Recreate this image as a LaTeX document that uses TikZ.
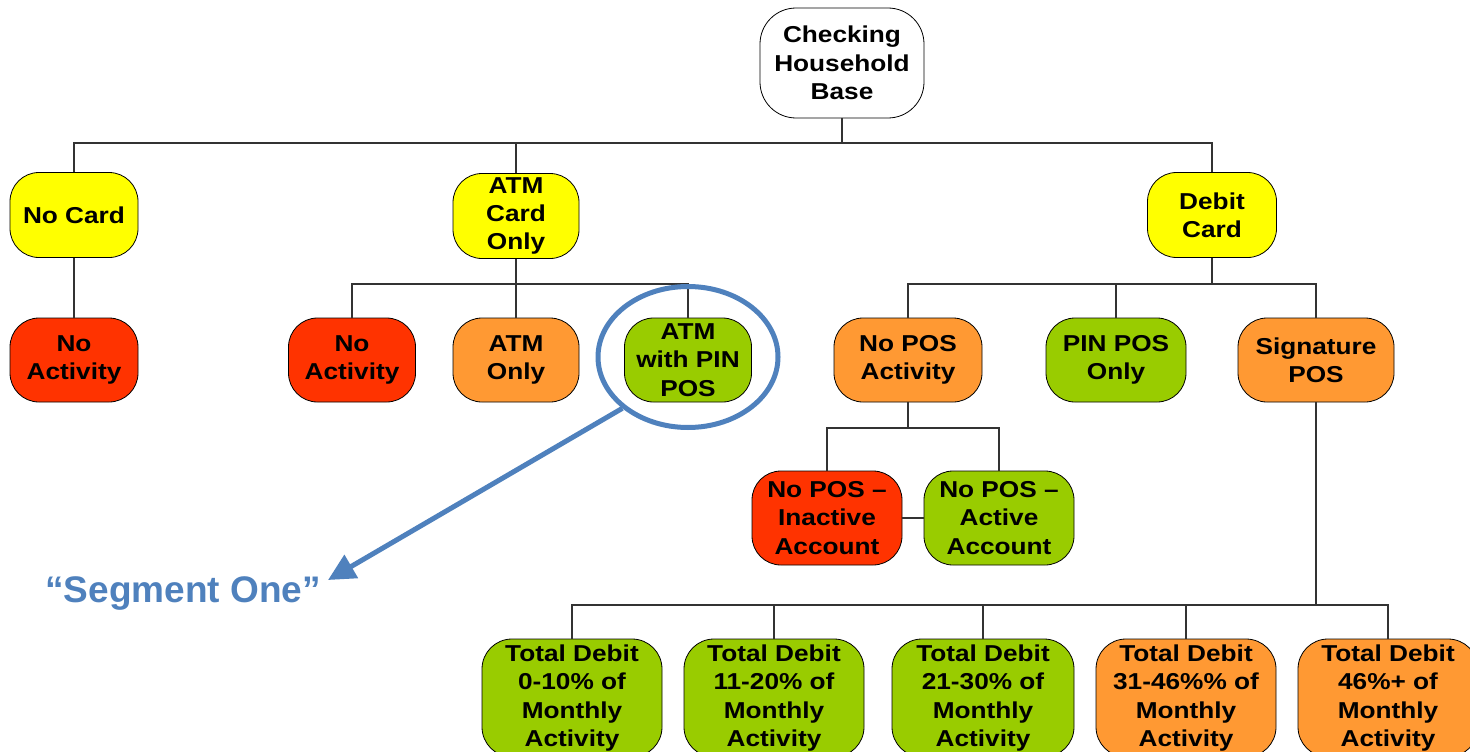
\documentclass[tikz,border=0pt]{standalone}
\usepackage{fontspec}
\setmainfont{Liberation Sans}
\newfontfamily\widefont[FakeStretch=1.14]{Liberation Sans}
\usetikzlibrary{arrows.meta,shapes.geometric}
\definecolor{cyel}{HTML}{FFFF00}
\definecolor{cred}{HTML}{FF3300}
\definecolor{corg}{HTML}{FF9933}
\definecolor{cgrn}{HTML}{99CC00}
\definecolor{cblu}{HTML}{4F81BD}
\begin{document}
\begin{tikzpicture}[x=1pt,y=-1pt,
  box/.style={draw=black,line width=0.8pt,rounded corners=29pt,inner sep=0pt,align=center,
    font=\fontsize{23}{28.3}\selectfont\widefont\bfseries},
  midrow/.style={box,minimum height=84pt},
  lowbox/.style={box,minimum width=150pt,minimum height=94pt},
  botbox/.style={box,rounded corners=30pt,minimum width=180pt,minimum height=118pt},
  conn/.style={line width=1.2pt,draw=black!80},
  segline/.style={draw=cblu,line width=5pt},
]
\useasboundingbox (0,0) rectangle (1470,752);
\clip (0,0) rectangle (1470,752);

% level 0
\node[box,fill=white,rounded corners=36pt,minimum width=164pt,minimum height=110pt] (root) at (842,63) {Checking\\Household\\Base};

% level 1
\node[box,fill=cyel,minimum width=128pt,minimum height=85pt] (nocard) at (74,215) {No Card};
\node[box,fill=cyel,minimum width=126pt,minimum height=85pt] (atmcard) at (516,216) {ATM\\Card\\Only};
\node[box,fill=cyel,minimum width=129pt,minimum height=85pt] (debit) at (1212,215) {Debit\\Card};

% level 2
\node[midrow,fill=cred,minimum width=128pt] (noact1) at (74,360) {No\\Activity};
\node[midrow,fill=cred,minimum width=127pt] (noact2) at (352,360) {No\\Activity};
\node[midrow,fill=corg,minimum width=126pt] (atmonly) at (516,360) {ATM\\Only};
\node[midrow,fill=cgrn,minimum width=127pt] (atmpin) at (688,360) {ATM\\with PIN\\POS};
\node[midrow,fill=corg,minimum width=148pt] (nopos) at (908,360) {No POS\\Activity};
\node[midrow,fill=cgrn,minimum width=140pt] (pinpos) at (1116,360) {PIN POS\\Only};
\node[midrow,fill=corg,minimum width=156pt] (sigpos) at (1316,360) {Signature\\POS};

% level 3
\node[lowbox,fill=cred] (inact) at (827,518) {No POS –\\Inactive\\Account};
\node[lowbox,fill=cgrn] (act) at (999,518) {No POS –\\Active\\Account};

% level 4
\node[botbox,fill=cgrn] (td1) at (572,698) {Total Debit\\0-10\% of\\Monthly\\Activity};
\node[botbox,fill=cgrn] (td2) at (774,698) {Total Debit\\11-20\% of\\Monthly\\Activity};
\node[botbox,fill=cgrn,minimum width=182pt] (td3) at (983,698) {Total Debit\\21-30\% of\\Monthly\\Activity};
\node[botbox,fill=corg] (td4) at (1186,698) {Total Debit\\31-46\%\% of\\Monthly\\Activity};
\node[botbox,fill=corg] (td5) at (1388,698) {Total Debit\\46\%+ of\\Monthly\\Activity};

% bus coordinates
\coordinate (b1) at (842,143);
\coordinate (b2) at (516,284);
\coordinate (b3) at (1212,284);
\coordinate (b4) at (908,428);
\coordinate (b5) at (1316,605);

% connectors
\draw[conn] (root.south) -- (b1);
\draw[conn] (nocard.north) |- (b1) -| (debit.north);
\draw[conn] (atmcard.north) -- (atmcard.north |- b1);
\draw[conn] (nocard.south) -- (noact1.north);

\draw[conn] (atmcard.south) -- (atmonly.north);
\draw[conn] (noact2.north) |- (b2) -| (atmpin.north);

\draw[conn] (debit.south) -- (b3);
\draw[conn] (nopos.north) |- (b3) -| (sigpos.north);
\draw[conn] (pinpos.north) -- (pinpos.north |- b3);

\draw[conn] (nopos.south) -- (b4);
\draw[conn] (inact.north) |- (b4) -| (act.north);
\draw[conn] (inact.east) -- (act.west);

\draw[conn] (sigpos.south) -- (b5);
\draw[conn] (td1.north) |- (b5) -| (td5.north);
\draw[conn] (td2.north) -- (td2.north |- b5);
\draw[conn] (td3.north) -- (td3.north |- b5);
\draw[conn] (td4.north) -- (td4.north |- b5);

% highlight
\node[ellipse,segline,minimum width=180pt,minimum height=141pt,inner sep=0pt] (seg) at (688,357) {};
\coordinate (segtip) at (328,580);
\draw[segline,-{Triangle[length=27pt,width=26pt]}] (seg.218) -- (segtip);
\node[text=cblu,font=\fontsize{37}{41}\selectfont\bfseries] (segtext) at (183,593) {“Segment One”};
\end{tikzpicture}
\end{document}
